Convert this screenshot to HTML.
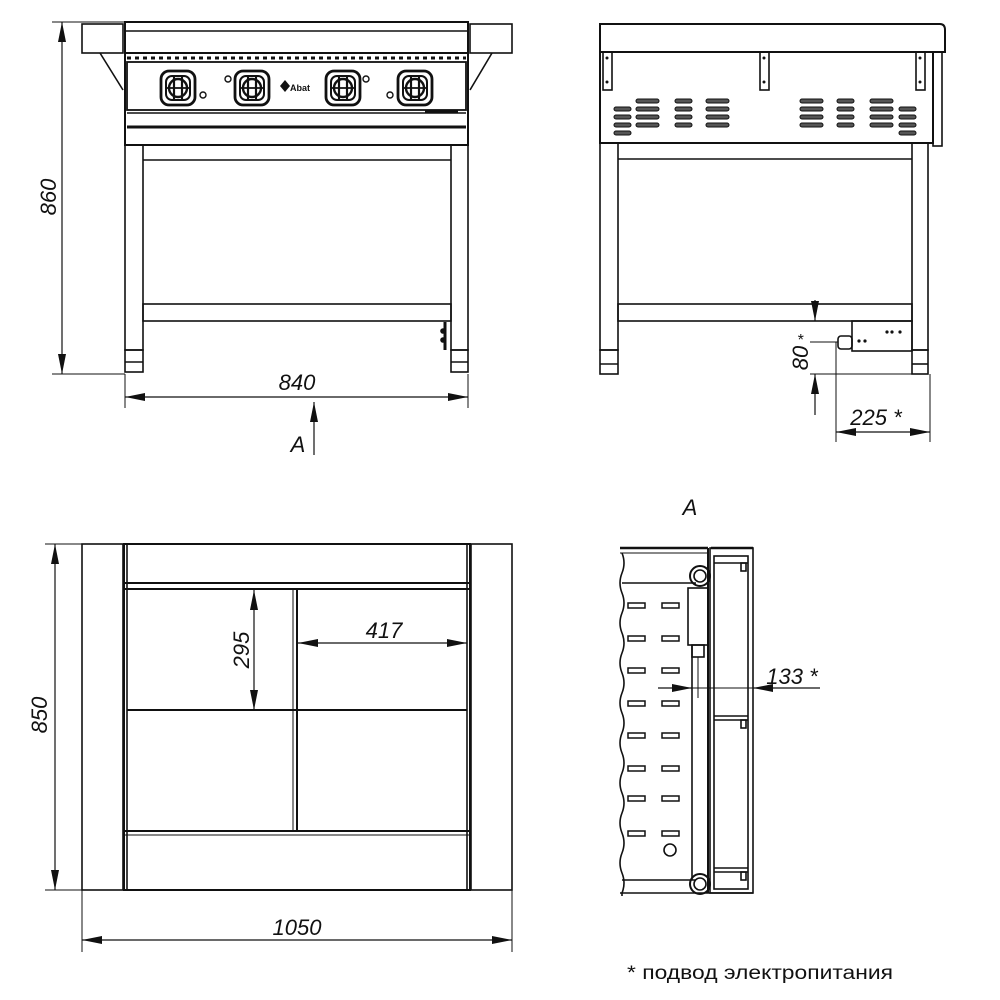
<!DOCTYPE html>
<html><head><meta charset="utf-8"><style>
html,body{margin:0;padding:0;background:#fff;}
svg{display:block;}
text{font-family:"Liberation Sans",sans-serif;fill:#111;}
.d{font-style:italic;font-size:22px;font-weight:300;}
</style></head><body>
<svg width="1000" height="1000" viewBox="0 0 1000 1000" xmlns="http://www.w3.org/2000/svg">
<defs>
<marker id="ar" viewBox="0 0 20 8" refX="20" refY="4" markerWidth="20" markerHeight="8" orient="auto-start-reverse" markerUnits="userSpaceOnUse">
<path d="M0,0 L20,4 L0,8 z" fill="#111"/></marker>
<g id="knob">
<rect x="-17" y="-17" width="34" height="34" rx="8" fill="none" stroke="#111" stroke-width="2.8"/>
<rect x="-12" y="-12" width="24" height="24" rx="6" fill="none" stroke="#111" stroke-width="2"/>
<circle r="9" fill="none" stroke="#111" stroke-width="2.4"/>
<line x1="-4" y1="-11" x2="-4" y2="11" stroke="#111" stroke-width="2.2"/>
<line x1="4" y1="-11" x2="4" y2="11" stroke="#111" stroke-width="2.2"/>
<line x1="-13" y1="0" x2="13" y2="0" stroke="#111" stroke-width="1.8"/>
</g>
</defs>
<g fill="none" stroke="#111" stroke-width="1.6">
<!-- FRONT VIEW -->
<rect x="82" y="24" width="41" height="29"/>
<rect x="470" y="24" width="42" height="29"/>
<rect x="125" y="22" width="343" height="31" stroke-width="2"/>
<line x1="125" y1="31" x2="468" y2="31"/>
<line x1="100" y1="53" x2="123" y2="90"/>
<line x1="492" y1="53" x2="470" y2="90"/>
<line x1="127" y1="58" x2="466" y2="58" stroke-dasharray="4,4" stroke-width="3"/>
<rect x="127" y="62" width="339" height="48" stroke-width="1.8"/>
<line x1="127" y1="113" x2="466" y2="113"/>
<line x1="127" y1="127" x2="466" y2="127" stroke-width="3"/>
<line x1="127" y1="145" x2="466" y2="145"/>
<line x1="425" y1="111" x2="458" y2="111" stroke-width="3"/>
<rect x="125" y="53" width="343" height="92" stroke-width="2"/>
<rect x="125" y="145" width="18" height="205"/>
<rect x="451" y="145" width="17" height="205"/>
<line x1="143" y1="160" x2="451" y2="160"/>
<rect x="143" y="304" width="308" height="17"/>
<rect x="125" y="350" width="18" height="22"/><line x1="125" y1="362" x2="143" y2="362"/>
<rect x="451" y="350" width="17" height="22"/><line x1="451" y1="362" x2="468" y2="362"/>
<line x1="445" y1="322" x2="445" y2="350" stroke-width="3"/>
<circle cx="443" cy="331" r="2" fill="#111"/><circle cx="443" cy="340" r="2" fill="#111"/>
<line x1="52" y1="374" x2="125" y2="374" stroke-width="1"/>
<line x1="52" y1="22" x2="125" y2="22" stroke-width="1"/>
<line x1="62" y1="22" x2="62" y2="374" stroke-width="1.2" marker-start="url(#ar)" marker-end="url(#ar)"/>
<line x1="125" y1="374" x2="125" y2="408" stroke-width="1"/>
<line x1="468" y1="374" x2="468" y2="408" stroke-width="1"/>
<line x1="125" y1="397" x2="468" y2="397" stroke-width="1.2" marker-start="url(#ar)" marker-end="url(#ar)"/>
<line x1="314" y1="455" x2="314" y2="402" stroke-width="1.2" marker-end="url(#ar)"/>

<!-- SIDE VIEW -->
<path d="M600,24 L940,24 Q945,24 945,30 L945,52 L600,52 Z" stroke-width="2"/>
<rect x="600" y="52" width="333" height="91" stroke-width="2"/>
<rect x="933" y="52" width="9" height="94"/>
<rect x="603" y="52" width="9" height="38"/><rect x="760" y="52" width="9" height="38"/><rect x="916" y="52" width="9" height="38"/>
<rect x="600" y="143" width="18" height="207"/>
<rect x="912" y="143" width="16" height="207"/>
<line x1="618" y1="159" x2="912" y2="159"/>
<rect x="618" y="304" width="294" height="17"/>
<rect x="600" y="350" width="18" height="24"/><line x1="600" y1="364" x2="618" y2="364"/>
<rect x="912" y="350" width="16" height="24"/><line x1="912" y1="364" x2="928" y2="364"/>
<rect x="852" y="321" width="60" height="30"/>
<rect x="838" y="336" width="14" height="13" rx="3"/>
<line x1="810" y1="342" x2="838" y2="342" stroke-width="1"/>
<line x1="815" y1="374" x2="815" y2="415" stroke-width="1"/>
<line x1="815" y1="300" x2="815" y2="321" stroke-width="1.2" marker-end="url(#ar)"/>
<line x1="815" y1="415" x2="815" y2="374" stroke-width="1.2" marker-end="url(#ar)"/>
<line x1="810" y1="374" x2="928" y2="374" stroke-width="1"/>
<line x1="836" y1="342" x2="836" y2="442" stroke-width="1"/>
<line x1="930" y1="374" x2="930" y2="442" stroke-width="1"/>
<line x1="836" y1="432" x2="930" y2="432" stroke-width="1.2" marker-start="url(#ar)" marker-end="url(#ar)"/>

<!-- PLAN VIEW -->
<rect x="82" y="544" width="41" height="346"/>
<rect x="471" y="544" width="41" height="346"/>
<rect x="124" y="544" width="346" height="346" stroke-width="2"/>
<line x1="127" y1="544" x2="127" y2="890"/><line x1="467" y1="544" x2="467" y2="890"/>
<line x1="124" y1="583" x2="470" y2="583" stroke-width="2"/>
<line x1="124" y1="589" x2="470" y2="589" stroke-width="2"/>
<line x1="297" y1="589" x2="297" y2="831" stroke-width="2"/>
<line x1="293" y1="589" x2="293" y2="831" stroke-width="1"/>
<line x1="127" y1="710" x2="467" y2="710" stroke-width="2"/>
<line x1="124" y1="831" x2="470" y2="831" stroke-width="2"/>
<line x1="124" y1="835" x2="470" y2="835" stroke-width="1"/>
<line x1="254" y1="590" x2="254" y2="710" stroke-width="1.2" marker-start="url(#ar)" marker-end="url(#ar)"/>
<line x1="298" y1="643" x2="467" y2="643" stroke-width="1.2" marker-start="url(#ar)" marker-end="url(#ar)"/>
<line x1="45" y1="544" x2="82" y2="544" stroke-width="1"/>
<line x1="45" y1="890" x2="82" y2="890" stroke-width="1"/>
<line x1="55" y1="544" x2="55" y2="890" stroke-width="1.2" marker-start="url(#ar)" marker-end="url(#ar)"/>
<line x1="82" y1="890" x2="82" y2="952" stroke-width="1"/>
<line x1="512" y1="890" x2="512" y2="952" stroke-width="1"/>
<line x1="82" y1="940" x2="512" y2="940" stroke-width="1.2" marker-start="url(#ar)" marker-end="url(#ar)"/>

<!-- VIEW A -->
<line x1="620" y1="548" x2="708" y2="548" stroke-width="2.5"/>
<line x1="711" y1="548" x2="753" y2="548" stroke-width="2.5"/>
<line x1="620" y1="553" x2="708" y2="553" stroke-width="1"/>
<line x1="622" y1="583" x2="696" y2="583"/>
<line x1="622" y1="880" x2="696" y2="880"/>
<line x1="620" y1="893" x2="753" y2="893"/>
<path d="M622,553 q4,10 0,20 q-4,10 0,20 q4,10 0,20 q-4,10 0,20 q4,10 0,20 q-4,10 0,20 q4,10 0,20 q-4,10 0,20 q4,10 0,20 q-4,10 0,20 q4,10 0,20 q-4,10 0,20 q4,10 0,20 q-4,10 0,20 q4,10 0,20 q-4,10 0,20 q4,10 0,20 l0,3"/>
<rect x="710" y="548" width="43" height="345"/>
<rect x="714" y="556" width="34" height="333"/>
<line x1="708" y1="548" x2="708" y2="893" stroke-width="2"/>
<line x1="692" y1="645" x2="692" y2="880"/>
<line x1="714" y1="716" x2="748" y2="716"/><line x1="714" y1="720" x2="748" y2="720"/>
<line x1="714" y1="868" x2="748" y2="868"/><line x1="714" y1="872" x2="748" y2="872"/>
<line x1="714" y1="563" x2="748" y2="563"/>
<rect x="741" y="563" width="5" height="8"/><rect x="741" y="720" width="5" height="8"/><rect x="741" y="872" width="5" height="8"/>
<circle cx="700" cy="576" r="10" stroke-width="2"/><circle cx="700" cy="576" r="6"/>
<circle cx="700" cy="884" r="10" stroke-width="2"/><circle cx="700" cy="884" r="6"/>
<rect x="688" y="588" width="20" height="57"/>
<rect x="692" y="645" width="12" height="12"/>
<line x1="698" y1="657" x2="698" y2="698" stroke-width="1"/>
<circle cx="670" cy="850" r="6"/>
<line x1="658" y1="688" x2="692" y2="688" stroke-width="1.2" marker-end="url(#ar)"/>
<line x1="820" y1="688" x2="753" y2="688" stroke-width="1.2" marker-end="url(#ar)"/>
<line x1="692" y1="688" x2="753" y2="688" stroke-width="1"/>
</g>
<g fill="none" stroke="#111" stroke-width="1.5">
<rect x="628" y="603" width="17" height="5"/><rect x="662" y="603" width="17" height="5"/>
<rect x="628" y="636" width="17" height="5"/><rect x="662" y="636" width="17" height="5"/>
<rect x="628" y="668" width="17" height="5"/><rect x="662" y="668" width="17" height="5"/>
<rect x="628" y="701" width="17" height="5"/><rect x="662" y="701" width="17" height="5"/>
<rect x="628" y="733" width="17" height="5"/><rect x="662" y="733" width="17" height="5"/>
<rect x="628" y="766" width="17" height="5"/><rect x="662" y="766" width="17" height="5"/>
<rect x="628" y="796" width="17" height="5"/><rect x="662" y="796" width="17" height="5"/>
<rect x="628" y="831" width="17" height="5"/><rect x="662" y="831" width="17" height="5"/>
</g>
<g fill="#555" stroke="#111" stroke-width="1">
<rect x="614" y="107" width="17" height="4" rx="2"/><rect x="614" y="115" width="17" height="4" rx="2"/><rect x="614" y="123" width="17" height="4" rx="2"/><rect x="614" y="131" width="17" height="4" rx="2"/>
<rect x="636" y="99" width="23" height="4" rx="2"/><rect x="636" y="107" width="23" height="4" rx="2"/><rect x="636" y="115" width="23" height="4" rx="2"/><rect x="636" y="123" width="23" height="4" rx="2"/>
<rect x="675" y="99" width="17" height="4" rx="2"/><rect x="675" y="107" width="17" height="4" rx="2"/><rect x="675" y="115" width="17" height="4" rx="2"/><rect x="675" y="123" width="17" height="4" rx="2"/>
<rect x="706" y="99" width="23" height="4" rx="2"/><rect x="706" y="107" width="23" height="4" rx="2"/><rect x="706" y="115" width="23" height="4" rx="2"/><rect x="706" y="123" width="23" height="4" rx="2"/>
<rect x="800" y="99" width="23" height="4" rx="2"/><rect x="800" y="107" width="23" height="4" rx="2"/><rect x="800" y="115" width="23" height="4" rx="2"/><rect x="800" y="123" width="23" height="4" rx="2"/>
<rect x="837" y="99" width="17" height="4" rx="2"/><rect x="837" y="107" width="17" height="4" rx="2"/><rect x="837" y="115" width="17" height="4" rx="2"/><rect x="837" y="123" width="17" height="4" rx="2"/>
<rect x="870" y="99" width="23" height="4" rx="2"/><rect x="870" y="107" width="23" height="4" rx="2"/><rect x="870" y="115" width="23" height="4" rx="2"/><rect x="870" y="123" width="23" height="4" rx="2"/>
<rect x="899" y="107" width="17" height="4" rx="2"/><rect x="899" y="115" width="17" height="4" rx="2"/><rect x="899" y="123" width="17" height="4" rx="2"/><rect x="899" y="131" width="17" height="4" rx="2"/>
</g>
<g fill="#111">
<circle cx="887" cy="332" r="1.6"/><circle cx="892" cy="332" r="1.6"/><circle cx="900" cy="332" r="1.6"/>
<circle cx="859" cy="341" r="1.6"/><circle cx="865" cy="341" r="1.6"/>
<circle cx="607" cy="58" r="1.5"/><circle cx="607" cy="82" r="1.5"/><circle cx="764" cy="58" r="1.5"/><circle cx="764" cy="82" r="1.5"/><circle cx="920" cy="58" r="1.5"/><circle cx="920" cy="82" r="1.5"/>
</g>
<use href="#knob" x="178" y="88"/>
<use href="#knob" x="252" y="88"/>
<use href="#knob" x="343" y="88"/>
<use href="#knob" x="415" y="88"/>
<g fill="none" stroke="#111" stroke-width="1.4">
<circle cx="203" cy="95" r="3"/><circle cx="228" cy="79" r="3"/><circle cx="366" cy="79" r="3"/><circle cx="390" cy="95" r="3"/>
</g>
<path d="M280,86 l5,-6 l5,6 l-5,6 z" fill="#111"/>
<text x="290" y="91" style="font-size:9px;font-weight:bold">Abat</text>

<text class="d" transform="translate(56,197) rotate(-90)" text-anchor="middle">860</text>
<text class="d" x="297" y="390" text-anchor="middle">840</text>
<text class="d" x="298" y="452" text-anchor="middle">A</text>
<text class="d" transform="translate(808,358) rotate(-90)" text-anchor="middle">80</text>
<text class="d" x="797" y="345" style="font-size:16px">*</text>
<text class="d" x="876" y="425" text-anchor="middle">225 *</text>
<text class="d" transform="translate(249,650) rotate(-90)" text-anchor="middle">295</text>
<text class="d" x="384" y="638" text-anchor="middle">417</text>
<text class="d" transform="translate(47,715) rotate(-90)" text-anchor="middle">850</text>
<text class="d" x="297" y="935" text-anchor="middle">1050</text>
<text class="d" x="690" y="515" text-anchor="middle">A</text>
<text class="d" x="792" y="684" text-anchor="middle">133 *</text>
<text x="627" y="979" textLength="266" lengthAdjust="spacingAndGlyphs" style="font-size:19px">* подвод электропитания</text>
</svg>
</body></html>
